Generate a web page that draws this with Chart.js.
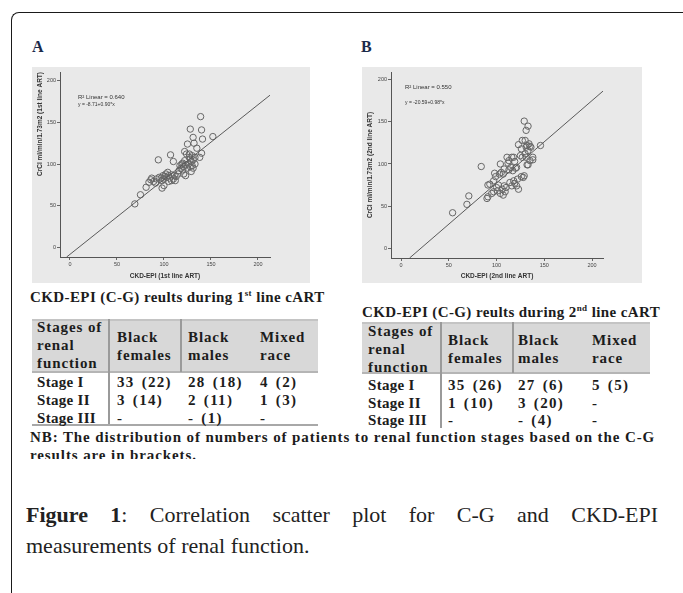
<!DOCTYPE html>
<html><head><meta charset="utf-8">
<script src="https://cdn.jsdelivr.net/npm/chart.js@4.4.1/dist/chart.umd.min.js"></script>
<style>
html,body{margin:0;padding:0;background:#fff;}
#page{position:relative;width:683px;height:593px;overflow:hidden;background:#fff;font-family:"Liberation Serif",serif;color:#1c1c1c;}
.abs{position:absolute;white-space:nowrap;}
.frame{position:absolute;left:11px;top:12px;width:720px;height:640px;border:1.5px solid #1a1a1a;border-right:none;border-top-left-radius:8px;}
.panel{position:absolute;top:38px;font:bold 16px "Liberation Serif",serif;color:#1b2a4a;}
.plot{position:absolute;top:67px;height:216px;background:#e9e9e9;}
.tt{font:bold 15px "Liberation Serif",serif;line-height:18px;transform:translateY(-9px);}
.hdr{position:absolute;background:#d8d8d8;}
.vl{position:absolute;width:1.5px;background:#9a9a9a;}
.hl{position:absolute;height:1.5px;background:#a8a8a8;}
sup{font-size:9px;line-height:0;}
.cap{position:absolute;left:26px;width:632px;font:22px "Liberation Serif",serif;color:#222;line-height:31px;}
</style></head>
<body><div id="page">
<div class="frame"></div>
<div class="panel" style="left:32px;">A</div>
<div class="panel" style="left:361px;">B</div>
<div class="plot" style="left:32px;width:278px;"><canvas id="cA" width="278" height="216"></canvas></div>
<div class="plot" style="left:362px;width:280px;"><canvas id="cB" width="280" height="216"></canvas></div>
<div id="tables"></div>
<div class="cap" style="top:499px;text-align:justify;text-align-last:justify;"><b>Figure 1</b>: Correlation scatter plot for C-G and CKD-EPI</div>
<div class="cap" style="top:530px;">measurements of renal function.</div>
</div>
<script>
// ---------- data ----------
const xA=[69,75,81,84,86,87,89,91,92,94,95,97,98,98,99,100,100,101,102,103,104,105,105,106,107,108,108,110,110,111,112,113,115,116,117,118,119,120,120,121,121,122,122,123,123,124,125,125,126,127,128,128,128,129,129,130,130,131,131,132,133,133,135,127,131,139,140,140,141,138,152];
const yA=[52,63,72,78,81,83,79,77,82,105,84,83,80,71,86,82,74,85,88,84,90,79,86,83,111,87,80,103,82,86,80,85,88,92,98,95,100,101,93,97,88,115,104,99,86,112,124,95,100,108,142,106,97,91,103,110,98,132,105,125,108,100,119,112,95,157,141,113,130,108,133];
const xB=[54,69,71,84,90,91,91,93,95,97,97,98,100,101,102,103,104,104,105,106,107,107,108,109,110,111,112,113,114,115,116,116,117,118,118,119,120,121,121,122,123,123,125,126,127,127,128,129,129,130,130,131,131,131,132,132,133,133,133,134,135,135,136,138,138,146,113,119,126,108,99];
const yB=[42,52,62,97,59,61,75,76,65,67,80,89,72,68,75,88,100,65,90,70,88,63,74,67,72,108,101,93,78,96,108,74,92,108,80,77,95,96,74,82,123,70,110,85,108,128,84,151,86,112,128,140,120,108,99,122,145,116,99,124,104,121,120,105,108,122,104,103,118,94,85];
const fitA=[-8.71,0.90];   // intercept, slope
const fitB=[-20.59,0.98];
const tickValues=[0,50,100,150,200];
const titlesA={x:'CKD-EPI (1st line ART)',y:'CrCl ml/min/1.73m2 (1st line ART)',r2:'R² Linear = 0.640',eq:'y = -8.71+0.90*x'};
const titlesB={x:'CKD-EPI (2nd line ART)',y:'CrCl ml/min/1.73m2 (2nd line ART)',r2:'R² Linear = 0.550',eq:'y = -20.59+0.98*x'};
const tableHeader=[['Stages of','renal','function'],['Black','females'],['Black','males'],['Mixed','race']];
const stages=['Stage I','Stage II','Stage III'];
const firstLine=[['33 (22)','28 (18)','4 (2)'],['3 (14)','2 (11)','1 (3)'],['-','- (1)','-']];
const secondLine=[['35 (26)','27 (6)','5 (5)'],['1 (10)','3 (20)','-'],['-','- (4)','-']];
const tableTitles=[['CKD-EPI (C-G) reults during 1','st',' line cART'],['CKD-EPI (C-G) reults during 2','nd',' line cART']];
const noteText=['NB: The distribution of numbers of patients to renal function stages based on the C-G','results are in brackets.'];

// ---------- scatter charts ----------
const annot={id:'annot',afterDraw(chart,args,o){
  const c=chart.ctx,a=chart.chartArea;c.save();
  c.fillStyle='#333';c.textBaseline='middle';
  c.font='6px "Liberation Sans"';c.fillText(o.r2,a.left+o.dx,a.top+o.dy1);
  c.font='5px "Liberation Sans"';c.fillText(o.eq,a.left+o.dx,a.top+o.dy2);
  c.restore();}};

function makeChart(id,xs,ys,fit,t,cfg){
  const pts=xs.map((x,i)=>({x:x,y:ys[i]}));
  const x0=(cfg.ymin-fit[0])/fit[1], x1=cfg.xmax;
  const line=[{x:x0,y:fit[0]+fit[1]*x0},{x:x1,y:fit[0]+fit[1]*x1}];
  const fixTicks=s=>{s.ticks=tickValues.map(v=>({value:v}));};
  new Chart(document.getElementById(id),{
    data:{datasets:[
      {type:'line',data:line,borderColor:'#5a5a5a',borderWidth:1,pointRadius:0,fill:false},
      {type:'scatter',data:pts,pointRadius:3.2,pointBorderColor:'#666666',pointBackgroundColor:'rgba(0,0,0,0)',pointBorderWidth:1}
    ]},
    options:{responsive:false,animation:false,devicePixelRatio:1,
      layout:{padding:{top:3,right:cfg.padR,left:0,bottom:0}},
      plugins:{legend:{display:false},tooltip:{enabled:false},
        annot:{r2:t.r2,eq:t.eq,dx:cfg.adx,dy1:cfg.ady1,dy2:cfg.ady2}},
      scales:{
        x:{type:'linear',min:cfg.xmin,max:cfg.xmax,afterBuildTicks:fixTicks,
          afterFit:s=>{s.height=cfg.bottomH;},
          grid:{display:true,drawOnChartArea:false,drawTicks:true,tickLength:3,color:'#666'},
          border:{color:'#555',width:1},
          ticks:{font:{size:5.5,family:'Liberation Sans'},color:'#444',padding:1,maxRotation:0},
          title:{display:true,text:t.x,font:{size:6.5,weight:'bold',family:'Liberation Sans'},color:'#333',padding:{top:2,bottom:3}}},
        y:{type:'linear',min:cfg.ymin,max:cfg.ymax,afterBuildTicks:fixTicks,
          afterFit:s=>{s.width=cfg.leftW;},
          grid:{display:true,drawOnChartArea:false,drawTicks:true,tickLength:3,color:'#666'},
          border:{color:'#555',width:1},
          ticks:{font:{size:5.5,family:'Liberation Sans'},color:'#444',padding:1},
          title:{display:true,align:cfg.yAlign,text:t.y,font:{size:6.5,weight:'bold',family:'Liberation Sans'},color:'#333',padding:{top:4,bottom:2}}}
      }},
    plugins:[annot]});
}
makeChart('cA',xA,yA,fitA,titlesA,{xmin:-10.6,xmax:212.8,ymin:-11.9,ymax:210.7,padR:40,leftW:28,bottomH:26,yAlign:'end',adx:18,ady1:25,ady2:33});
makeChart('cB',xB,yB,fitB,titlesB,{xmin:-10.5,xmax:211.5,ymin:-11.8,ymax:209.4,padR:39,leftW:29,bottomH:25,yAlign:'center',adx:14,ady1:15,ady2:31});

// ---------- tables ----------
const host=document.getElementById('tables');
function add(html){host.insertAdjacentHTML('beforeend',html);}
function txt(x,y,s,extra){add(`<div class="abs tt" style="left:${x}px;top:${y}px;${extra||''}">${s}</div>`);}
const sTitle='letter-spacing:0.4px;';
const sHead='letter-spacing:0.9px;';
const sStage='letter-spacing:0.3px;';
const sNum='letter-spacing:1.3px;word-spacing:2px;';
function buildTable(L){
  const tt=tableTitles[L.k];
  txt(L.tx,L.ty,`${tt[0]}<sup>${tt[1]}</sup>${tt[2]}`,sTitle);
  add(`<div class="hdr" style="left:${L.hx}px;top:${L.hy}px;width:${L.hw}px;height:${L.hh}px;"></div>`);
  add(`<div class="hl" style="left:${L.hx}px;top:${L.hy}px;width:${L.hw}px;background:#c4c4c4"></div>`);
  add(`<div class="hl" style="left:${L.hx}px;top:${L.hy+L.hh-1}px;width:${L.hw}px;background:#b5b5b5"></div>`);
  add(`<div class="vl" style="left:${L.v1}px;top:${L.hy}px;height:${L.vh}px;"></div>`);
  add(`<div class="vl" style="left:${L.v2}px;top:${L.hy}px;height:${L.hh}px;"></div>`);
  if(L.bottom) add(`<div class="hl" style="left:${L.hx}px;top:${L.bottom}px;width:${L.hw}px;"></div>`);
  tableHeader[0].forEach((s,i)=>txt(L.cx[0],L.h1[i],s,sHead));
  for(let c=1;c<4;c++) tableHeader[c].forEach((s,i)=>txt(L.cx[c],L.h2[i],s,sHead));
  const body=L.k===0?firstLine:secondLine;
  stages.forEach((s,r)=>{txt(L.cx[0],L.rows[r],s,sStage);body[r].forEach((v,c)=>txt(L.cx[c+1],L.rows[r],v,sNum));});
}
buildTable({k:0,tx:30,ty:297,hx:32,hy:319,hw:286,hh:53,v1:108,v2:180,vh:106,bottom:424,
  cx:[37,117,188,260],h1:[327,345,363],h2:[337,355],rows:[382,400,418]});
buildTable({k:1,tx:362,ty:312,hx:362,hy:322,hw:288,hh:51,v1:440,v2:512,vh:106,bottom:0,
  cx:[368,448,518,592],h1:[331,349,367],h2:[340,358],rows:[385,403,420]});
txt(30,437,noteText[0],'letter-spacing:0.9px;');
add(`<div class="abs" style="left:30px;top:446px;height:13px;overflow:hidden;"><div class="tt" style="transform:none;letter-spacing:0.9px;">${noteText[1]}</div></div>`);
</script>
</body></html>
